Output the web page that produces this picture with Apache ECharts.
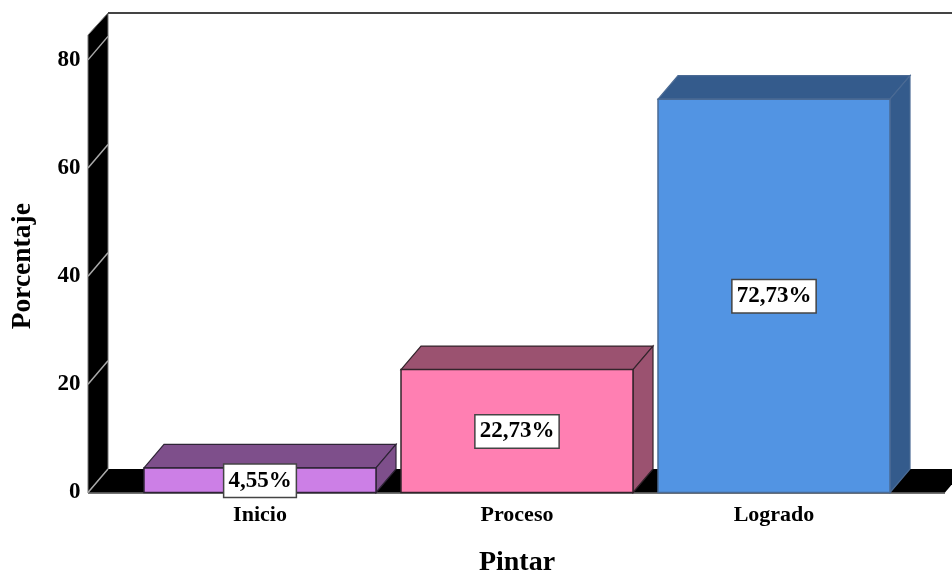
<!DOCTYPE html>
<html>
<head>
<meta charset="utf-8">
<style>html,body{margin:0;padding:0;background:#fff}#chart{width:952px;height:572px}</style>
<script src="https://cdn.jsdelivr.net/npm/echarts@6/dist/echarts.min.js"></script>
</head>
<body>
<div id="chart"></div>
<script>
// Achievement levels for the "Pintar" skill, as percentages
const categories = ['Inicio', 'Proceso', 'Logrado'];
const percentages = [4.55, 22.73, 72.73];
const yTicks = [0, 20, 40, 60, 80];

// Face colours per bar: front, top/side, outline
const frontColors = ['#CC7FE6', '#FF7FB2', '#5294E3'];
const shadeColors = ['#7E4F8B', '#9B5270', '#345B8C'];
const edgeColors = ['#2E2436', '#33242B', '#4A6A94'];

// Oblique projection offset of the 3D box
const DEPTH_X = 20;
const DEPTH_Y = -23.5;
const BAR_WIDTH = 232;
const FONT = '"Liberation Serif", "Times New Roman", serif';

const chart = echarts.init(document.getElementById('chart'));

// Black side wall and floor, with the top and bottom frame lines
function renderFrame(params, api) {
  const cs = params.coordSys;
  const wallX = cs.x - 43.5;
  const floorEnd = cs.x + cs.width + 42.5;
  const bottom = cs.y + cs.height;
  const top = cs.y;
  const backTop = top - 22;
  const children = [
    { type: 'polygon',
      shape: { points: [[wallX, bottom], [wallX, top], [wallX + DEPTH_X, backTop], [wallX + DEPTH_X, bottom + DEPTH_Y]] },
      style: { fill: '#000', stroke: '#777', lineWidth: 1 } },
    { type: 'polygon',
      shape: { points: [[wallX, bottom], [wallX + DEPTH_X, bottom + DEPTH_Y], [floorEnd + DEPTH_X, bottom + DEPTH_Y], [floorEnd, bottom]] },
      style: { fill: '#000' } },
    { type: 'line',
      shape: { x1: wallX + DEPTH_X, y1: backTop, x2: 952, y2: backTop },
      style: { stroke: '#444', lineWidth: 2 } },
    { type: 'line',
      shape: { x1: wallX, y1: bottom + 0.5, x2: floorEnd, y2: bottom + 0.5 },
      style: { stroke: '#444', lineWidth: 1.5 } }
  ];
  yTicks.forEach(function (t) {
    const y = api.coord([0, t])[1];
    children.push({ type: 'line',
      shape: { x1: wallX, y1: y, x2: wallX + DEPTH_X, y2: y + DEPTH_Y },
      style: { stroke: '#aaa', lineWidth: 1.5 } });
  });
  return { type: 'group', children: children };
}

// One oblique box with its value label on the front face
function renderBox(params, api) {
  const i = api.value(0);
  const base = api.coord([i, 0]);
  const head = api.coord([i, api.value(1)]);
  const l = base[0] - BAR_WIDTH / 2;
  const r = base[0] + BAR_WIDTH / 2;
  const b = base[1];
  const t = head[1];
  const edge = edgeColors[i];
  const text = api.value(1).toFixed(2).replace('.', ',') + '%';
  return { type: 'group', children: [
    { type: 'polygon',
      shape: { points: [[l, t], [l + DEPTH_X, t + DEPTH_Y], [r + DEPTH_X, t + DEPTH_Y], [r, t]] },
      style: { fill: shadeColors[i], stroke: edge, lineWidth: 1.2 } },
    { type: 'polygon',
      shape: { points: [[r, t], [r + DEPTH_X, t + DEPTH_Y], [r + DEPTH_X, b + DEPTH_Y], [r, b]] },
      style: { fill: shadeColors[i], stroke: edge, lineWidth: 1.2 } },
    { type: 'rect',
      shape: { x: l, y: t, width: r - l, height: b - t },
      style: { fill: frontColors[i], stroke: edge, lineWidth: 1.5 } },
    { type: 'text', z2: 10,
      style: { text: text, x: base[0], y: (t + b) / 2 + 0.5, align: 'center', verticalAlign: 'middle',
        font: 'bold 23px ' + FONT, fill: '#000', backgroundColor: '#fff',
        borderColor: '#444', borderWidth: 1.5, padding: [5, 4, 4, 4] } }
  ] };
}

chart.setOption({
  animation: false,
  backgroundColor: '#fff',
  grid: { left: 131.5, top: 35, width: 771, height: 457.5, outerBoundsMode: 'none' },
  xAxis: {
    type: 'category',
    data: categories,
    name: 'Pintar',
    nameLocation: 'middle',
    nameGap: 56,
    nameTextStyle: { fontFamily: FONT, fontWeight: 'bold', fontSize: 28, color: '#000' },
    axisLine: { show: false },
    axisTick: { show: false },
    axisLabel: { fontFamily: FONT, fontWeight: 'bold', fontSize: 22, color: '#000', margin: 12 }
  },
  yAxis: {
    type: 'value',
    min: 0,
    max: 84.6,
    interval: 20,
    name: 'Porcentaje',
    nameLocation: 'middle',
    nameGap: 95,
    nameTextStyle: { fontFamily: FONT, fontWeight: 'bold', fontSize: 27.5, color: '#000', padding: [0, 5, 0, 0] },
    axisLine: { show: false },
    axisTick: { show: false },
    splitLine: { show: false },
    axisLabel: { customValues: yTicks, fontFamily: FONT, fontWeight: 'bold', fontSize: 23, color: '#000', margin: 51 }
  },
  series: [
    { type: 'custom', silent: true, clip: false, z: 1, data: [[0, 0]], renderItem: renderFrame },
    { type: 'custom', silent: true, clip: false, z: 2,
      data: percentages.map(function (v, i) { return [i, v]; }),
      encode: { x: 0, y: 1 }, renderItem: renderBox }
  ]
});
</script>
</body>
</html>
